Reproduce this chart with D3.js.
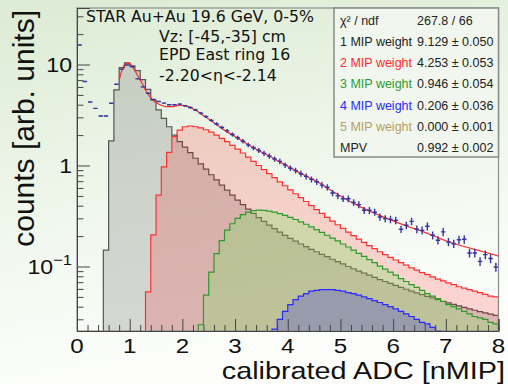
<!DOCTYPE html>
<html><head><meta charset="utf-8">
<script src="https://cdn.jsdelivr.net/npm/d3@7"></script>
<style>html,body{margin:0;padding:0;background:#fff;} svg{display:block}</style>
</head><body>
<svg id="c" width="508" height="384"></svg>
<script>
// ---- data -------------------------------------------------------------
const binWidth = 0.1;

// measured spectrum (bin centres 0.05 ... 7.95)
const dataStart = 0.0;
const dataVals = [15.6,6.8,4.25,3.68,3.09,3.09,4.13,6.37,9.0,9.9,
  9.5,7.2,6.0,5.2,4.5,4.3,4.15,4.0,4.0,4.05,
  3.9,3.75,3.55,3.3,3.05,2.8,2.58,2.38,2.2,2.03,
  1.88,1.74,1.6,1.5,1.41,1.32,1.24,1.16,1.1,1.01,
  0.94,0.89,0.83,0.78,0.73,0.69,0.64,0.61,0.534,0.50,
  0.469,0.469,0.43,0.41,0.36,0.36,0.345,0.309,0.298,0.293,
  0.286,0.234,0.256,0.28,0.234,0.228,0.25,0.204,0.182,0.22,
  0.175,0.168,0.184,0.186,0.136,0.136,0.1125,0.131,0.12,0.099];
// relative statistical errors of the measured points
const dataRelErr = [0.004,0.004,0.004,0.004,0.004,0.004,0.004,0.004,0.004,0.004,
  0.005,0.005,0.006,0.007,0.008,0.010,0.012,0.014,0.016,0.018,
  0.020,0.022,0.025,0.028,0.031,0.034,0.037,0.040,0.043,0.046,
  0.048,0.050,0.052,0.054,0.056,0.058,0.060,0.061,0.062,0.063,
  0.064,0.065,0.066,0.067,0.068,0.069,0.070,0.071,0.072,0.073,
  0.074,0.075,0.076,0.077,0.078,0.079,0.080,0.081,0.082,0.083,
  0.084,0.085,0.086,0.087,0.088,0.089,0.090,0.091,0.092,0.093,
  0.094,0.095,0.096,0.097,0.098,0.099,0.100,0.101,0.102,0.103];

// fit components (n-MIP contributions)
const mip1Start = 0.5;
const mip1Vals = [0.145,1.75,5.6,9.3,10.4,9.7,8.7,7.1,5.68,4.45,
  3.55,2.93,2.42,2.0,1.72,1.52,1.34,1.18,1.04,0.92,
  0.81,0.72,0.64,0.57,0.51,0.455,0.41,0.37,0.335,0.305,
  0.28,0.257,0.237,0.219,0.203,0.19,0.178,0.167,0.157,0.148,
  0.14,0.132,0.125,0.118,0.112,0.106,0.1,0.095,0.09,0.086,
  0.082,0.078,0.074,0.071,0.068,0.065,0.062,0.0595,0.057,0.0548,
  0.0527,0.0507,0.0488,0.047,0.0453,0.0437,0.0422,0.0408,0.0394,0.0381,
  0.0369,0.0358,0.0347,0.0337,0.0328];
const mip2Start = 1.3;
const mip2Vals = [0.056,0.206,0.51,0.97,1.35,1.93,2.24,2.42,2.46,2.42,
  2.36,2.26,2.14,2.0,1.86,1.72,1.58,1.45,1.33,1.21,
  1.1,1.0,0.91,0.83,0.76,0.69,0.63,0.575,0.525,0.48,
  0.44,0.4,0.365,0.335,0.307,0.282,0.259,0.238,0.219,0.202,
  0.187,0.173,0.161,0.15,0.14,0.131,0.123,0.116,0.109,0.103,
  0.097,0.092,0.087,0.083,0.079,0.075,0.072,0.069,0.066,0.063,
  0.061,0.059,0.057,0.055,0.053,0.051,0.05];
const mip3Start = 2.3;
const mip3Vals = [0.0265,0.052,0.088,0.134,0.18,0.229,0.265,0.30,0.326,0.345,
  0.357,0.362,0.36,0.354,0.345,0.334,0.321,0.307,0.292,0.277,
  0.262,0.247,0.232,0.218,0.204,0.191,0.179,0.167,0.156,0.145,
  0.135,0.126,0.117,0.109,0.101,0.094,0.088,0.082,0.076,0.071,
  0.066,0.062,0.058,0.054,0.051,0.048,0.045,0.042,0.04,0.038,
  0.036,0.034,0.032,0.031,0.03,0.028,0.027];
const mip4Start = 3.7;
const mip4Vals = [0.024,0.030,0.036,0.042,0.047,0.051,0.054,0.057,0.058,0.059,
  0.059,0.059,0.058,0.057,0.055,0.054,0.052,0.050,0.048,0.046,
  0.044,0.042,0.040,0.038,0.036,0.034,0.032,0.030,0.028,0.027,
  0.025,0.023];

// total fit function
const fitX = [0.80,0.85,0.90,0.95,1.00,1.05,1.10,1.15,1.20,1.25,1.30,1.35,1.40,1.45,1.50,
  1.60,1.70,1.80,1.90,2.00,2.10,2.20,2.30,2.40,2.50,2.60,2.70,2.80,2.90,3.00,
  3.10,3.20,3.30,3.40,3.50,3.60,3.70,3.80,3.90,4.00,4.20,4.40,4.60,4.80,5.00,
  5.20,5.40,5.60,5.80,6.00,6.20,6.40,6.60,6.80,7.00,7.20,7.40,7.60,7.80,8.00];
const fitY = [7.0,8.7,9.9,10.3,10.2,9.6,8.7,7.8,7.0,6.3,5.6,5.1,4.7,4.4,4.2,
  3.95,3.83,3.82,3.92,3.95,3.85,3.65,3.4,3.12,2.88,2.65,2.43,2.24,2.08,1.94,
  1.80,1.67,1.55,1.45,1.36,1.28,1.20,1.12,1.05,0.98,0.86,0.76,0.67,0.575,0.50,
  0.435,0.385,0.345,0.312,0.283,0.258,0.237,0.218,0.198,0.18,0.166,0.155,0.145,0.136,0.127];

// axis ticks
const xMajor = [0,1,2,3,4,5,6,7,8];
const yMajor = [0.1,1,10];
const yLabels = [["10","\u22121"],["1",""],["10",""]];

// fit result box
const statLabels = ["\u03c7\u00b2 / ndf","1 MIP weight","2 MIP weight","3 MIP weight","4 MIP weight","5 MIP weight","MPV"];
const statValues = ["267.8 / 66","9.129 \u00b1 0.050","4.253 \u00b1 0.053","0.946 \u00b1 0.054","0.206 \u00b1 0.036","0.000 \u00b1 0.001","0.992 \u00b1 0.002"];
const statColors = ["#222","#222","#ff2a2a","#2f9a2f","#2a2aff","#b5a064","#222"];

const infoLines = ["STAR Au+Au 19.6 GeV, 0-5%","Vz: [-45,-35] cm","EPD East ring 16","-2.20<\u03b7<-2.14"];

// ---- layout -------------------------------------------------------------
const svg = d3.select("#c");
const L = 77, R = 498.5, T = 8, B = 331;
const x = d3.scaleLinear().domain([0, 8]).range([L, R]);
const y = d3.scaleLog().domain([0.02298, 36.27]).range([B, T]).clamp(true);

// page background
const defs = svg.append("defs");
const g = defs.append("linearGradient").attr("id","bg").attr("x1",0).attr("y1",0).attr("x2",0.25).attr("y2",1);
g.append("stop").attr("offset",0).attr("stop-color","#dcebd4");
g.append("stop").attr("offset",0.5).attr("stop-color","#eef6ea");
g.append("stop").attr("offset",1).attr("stop-color","#fdfefc");
svg.append("rect").attr("width",508).attr("height",384).attr("fill","url(#bg)");

defs.append("clipPath").attr("id","plotclip").append("rect")
  .attr("x",L).attr("y",T).attr("width",R-L).attr("height",B-T);

const plot = svg.append("g").attr("clip-path","url(#plotclip)");

function histPath(start, vals) {
  let p = `M${x(start)},${B}`;
  vals.forEach((v, i) => {
    const yy = y(v);
    p += `L${x(start + i*binWidth)},${yy}L${x(start + (i+1)*binWidth)},${yy}`;
  });
  p += `L${x(start + vals.length*binWidth)},${B}`;
  return p;
}

const comps = [
  {start: mip1Start, vals: mip1Vals, fill: "rgba(128,128,128,0.3)", line: "#555"},
  {start: mip2Start, vals: mip2Vals, fill: "rgba(255,0,0,0.16)", line: "#ff3030"},
  {start: mip3Start, vals: mip3Vals, fill: "rgba(118,230,97,0.3)", line: "#2e9a2e"},
  {start: mip4Start, vals: mip4Vals, fill: "rgba(40,40,230,0.25)", line: "#2a2aff"}
];
comps.forEach(c => {
  const d = histPath(c.start, c.vals);
  plot.append("path").attr("d", d + "Z").attr("fill", c.fill).attr("stroke","none");
  plot.append("path").attr("d", d).attr("fill","none").attr("stroke", c.line).attr("stroke-width",1.2);
});

// fit curve
plot.append("path")
  .attr("d", d3.line().x((d,i)=>x(fitX[i])).y(d=>y(d)).curve(d3.curveMonotoneX)(fitY))
  .attr("fill","none").attr("stroke","#ff2a2a").attr("stroke-width",1.2);

// measured points with error bars
const pts = plot.append("g").attr("stroke","#3535a0").attr("stroke-width",1.4);
dataVals.forEach((v, i) => {
  const cx = dataStart + (i + 0.5)*binWidth;
  const e = v*dataRelErr[i];
  pts.append("line").attr("x1", x(cx - binWidth/2)+0.4).attr("x2", x(cx + binWidth/2)-0.4)
    .attr("y1", y(v)).attr("y2", y(v));
  pts.append("line").attr("x1", x(cx)).attr("x2", x(cx))
    .attr("y1", y(v + e)).attr("y2", y(v - e));
});

// ---- axes -------------------------------------------------------------
svg.append("rect").attr("x",L).attr("y",T).attr("width",R-L).attr("height",B-T)
  .attr("fill","none").attr("stroke","#8c8c8c").attr("stroke-width",1.2);

const xMinor = d3.range(0, 8.0001, 0.2).filter(v => Math.abs(v - Math.round(v)) > 1e-6);
const axX = svg.append("g").attr("transform",`translate(0,${B})`);
axX.call(d3.axisBottom(x).tickValues(xMajor).tickSize(-12).tickFormat(""));
axX.append("g").call(d3.axisBottom(x).tickValues(xMinor).tickSize(-6).tickFormat(""));
axX.selectAll(".domain").attr("stroke","#444");
axX.selectAll(".tick line").attr("stroke","#444");

const yMinor = [];
[0.01,0.1,1,10].forEach(dec => { for (let k=2;k<=9;k++) { const v=k*dec; if (v>0.0229 && v<36.3) yMinor.push(v); } });
const axY = svg.append("g").attr("transform",`translate(${L},0)`);
axY.call(d3.axisLeft(y).tickValues(yMajor).tickSize(-13).tickFormat(""));
axY.append("g").call(d3.axisLeft(y).tickValues(yMinor).tickSize(-6.5).tickFormat(""));
axY.selectAll(".domain").attr("stroke","#444");
axY.selectAll(".tick line").attr("stroke","#444");

// tick labels
const fontAx = "'Liberation Sans', Arial, sans-serif";
svg.append("g").selectAll("text").data(xMajor).join("text")
  .attr("transform", d => `translate(${x(d)},353) scale(1.15,1)`).attr("text-anchor","middle")
  .attr("font-family", fontAx).attr("font-size", 21).attr("fill","#111").text(d => d);

yMajor.forEach((v, i) => {
  const t = svg.append("text").attr("transform", `translate(72,${y(v) + 7.5}) scale(1.1,1)`)
    .attr("font-family", fontAx).attr("font-size", 21).attr("fill","#111").attr("text-anchor","end");
  t.append("tspan").text(yLabels[i][0]);
  if (yLabels[i][1]) t.append("tspan").attr("dy",-9).attr("font-size",15).text(yLabels[i][1]);
});

// axis titles
svg.append("text").attr("transform","translate(505,379) scale(1.2,1)").attr("text-anchor","end")
  .attr("font-family", fontAx).attr("font-size", 24).attr("fill","#111").text("calibrated ADC [nMIP]");
svg.append("text").attr("transform","translate(34,10) rotate(-90)").attr("text-anchor","end")
  .attr("font-family", fontAx).attr("font-size", 30).attr("fill","#111").text("counts [arb. units]");

// ---- annotations -------------------------------------------------------
const fontInfo = "'DejaVu Sans', Verdana, sans-serif";
const infoX = [86,159,159,159], infoY = [22,42,60,81];
infoLines.forEach((s,i) => {
  svg.append("text").attr("transform", `translate(${infoX[i]},${infoY[i]}) scale(1.05,1)`)
    .attr("font-family", fontInfo).attr("font-size", 15).attr("fill","#111").text(s);
});

// fit result box
const box = svg.append("g");
box.append("rect").attr("x",334).attr("y",T).attr("width",R-334).attr("height",149)
  .attr("fill","#f1f7ee").attr("stroke","#8a8a8a").attr("stroke-width",1.5);
statLabels.forEach((s,i) => {
  const yy = 24.5 + i*21.3;
  box.append("text").attr("x",340).attr("y",yy).attr("font-family",fontAx).attr("font-size",12.5)
    .attr("fill",statColors[i]).text(s);
  box.append("text").attr("x",417).attr("y",yy).attr("font-family",fontAx).attr("font-size",12.5)
    .attr("fill","#222").text(statValues[i]);
});
</script>
</body></html>
